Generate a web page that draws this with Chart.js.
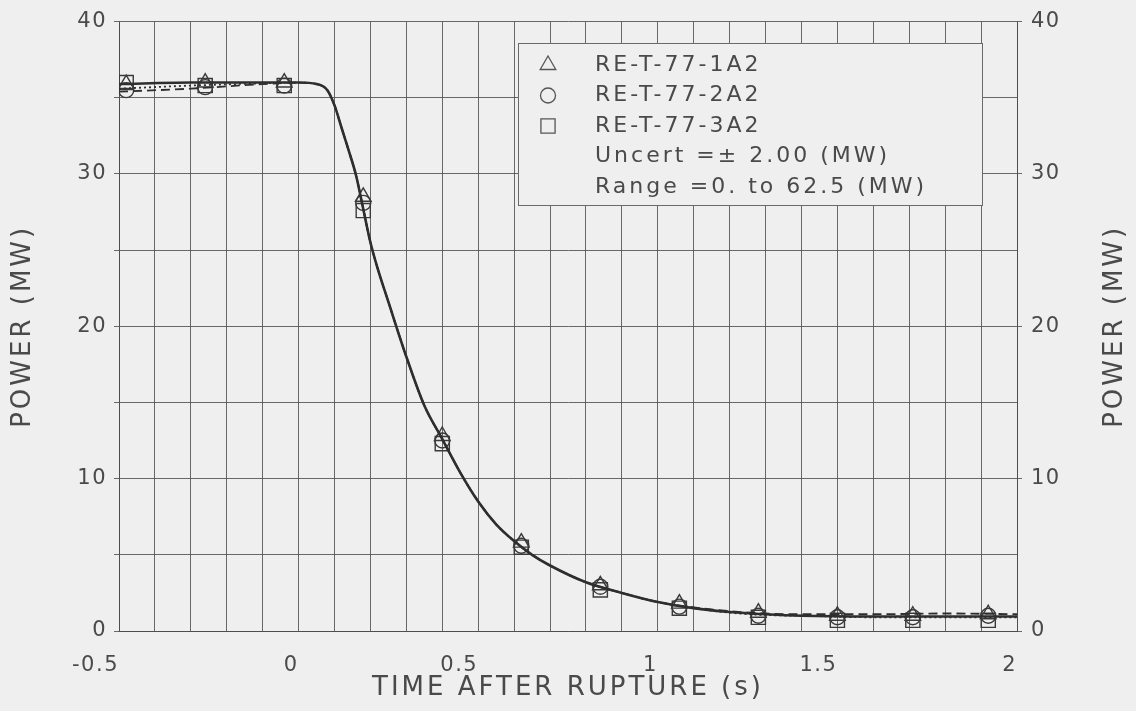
<!DOCTYPE html>
<html>
<head>
<meta charset="utf-8">
<title>Power after rupture</title>
<script src="https://cdn.jsdelivr.net/npm/chart.js@4.4.1/dist/chart.umd.min.js"></script>
<style>
  html, body { margin: 0; padding: 0; background: #efefef; }
  #wrap { width: 1136px; height: 711px; }
</style>
</head>
<body>
<div id="wrap"><canvas id="power-chart" width="1136" height="711"></canvas></div>
<script>
// smooth curves (time in s, power in MW)
const curveTime = [-0.5, -0.3, -0.1, 0, 0.05, 0.08, 0.1, 0.12, 0.14, 0.16, 0.18, 0.2, 0.22, 0.25,
  0.3, 0.35, 0.4, 0.45, 0.5, 0.55, 0.6, 0.65, 0.7, 0.8, 0.9, 1.0, 1.1, 1.2, 1.3, 1.4, 1.6, 1.8, 2.0];
const curve1A2 = [35.9, 36.0, 36.0, 36.0, 35.9, 35.5, 34.5, 33.0, 31.5, 29.9, 27.7, 25.5, 23.8, 21.6,
  18.0, 14.8, 12.6, 10.4, 8.5, 7.0, 5.9, 5.0, 4.3, 3.2, 2.5, 1.9, 1.5, 1.25, 1.1, 1.0, 0.95, 0.95, 0.95];
const curve2A2 = [35.4, 35.6, 35.9, 36.0, 35.9, 35.5, 34.5, 33.0, 31.5, 29.9, 27.7, 25.5, 23.8, 21.6,
  18.0, 14.8, 12.6, 10.4, 8.5, 7.0, 5.9, 5.0, 4.3, 3.2, 2.5, 1.9, 1.55, 1.3, 1.15, 1.1, 1.1, 1.15, 1.1];
const curve3A2 = [35.6, 35.8, 35.95, 36.0, 35.9, 35.5, 34.5, 33.0, 31.5, 29.9, 27.7, 25.5, 23.8, 21.6,
  18.0, 14.8, 12.6, 10.4, 8.5, 7.0, 5.9, 5.0, 4.3, 3.2, 2.5, 1.9, 1.5, 1.2, 1.05, 1.0, 0.9, 0.9, 0.9];

// sampled points shown with symbols
const sampleTime = [-0.48, -0.26, -0.04, 0.18, 0.40, 0.62, 0.84, 1.06, 1.28, 1.50, 1.71, 1.92];
const sample1A2 = [35.9, 36.0, 36.0, 28.5, 12.8, 5.8, 3.0, 1.8, 1.2, 1.0, 1.0, 1.1];
const sample2A2 = [35.5, 35.7, 35.8, 28.1, 12.5, 5.6, 2.9, 1.6, 1.0, 0.9, 0.9, 1.0];
const sample3A2 = [36.0, 35.8, 35.8, 27.6, 12.3, 5.5, 2.7, 1.5, 0.9, 0.7, 0.7, 0.7];

const seriesNames = ['RE-T-77-1A2', 'RE-T-77-2A2', 'RE-T-77-3A2'];
const noteLines = ['Uncert =\u00b1 2.00 (MW)', 'Range =0. to 62.5 (MW)'];
const xTitle = 'TIME AFTER RUPTURE (s)';
const yTitle = 'POWER (MW)';

const INK = '#4a4a4a';
const GRID = 'rgba(70,70,70,0.8)';
const FONT = '"DejaVu Sans", sans-serif';
const styles = [
  { pointStyle: 'triangle', radius: 9, dash: [] },
  { pointStyle: 'circle', radius: 7.5, dash: [9, 5] },
  { pointStyle: 'rect', radius: 10, dash: [2, 3] }
];

const pairs = (xs, ys) => xs.map((x, i) => ({ x, y: ys[i] }));
const curves = [curve1A2, curve2A2, curve3A2];
const samples = [sample1A2, sample2A2, sample3A2];

const datasets = [];
curves.forEach((c, i) => datasets.push({
  label: seriesNames[i] + ' curve',
  data: pairs(curveTime, c),
  borderColor: '#2e2e2e', borderWidth: i === 0 ? 2.6 : 1.8, borderDash: styles[i].dash,
  pointRadius: 0, cubicInterpolationMode: 'monotone', fill: false
}));
samples.forEach((s, i) => datasets.push({
  label: seriesNames[i],
  data: pairs(sampleTime, s),
  showLine: false,
  pointStyle: styles[i].pointStyle, pointRadius: styles[i].radius,
  pointBorderColor: '#3a3a3a', pointBackgroundColor: 'rgba(0,0,0,0)', pointBorderWidth: 1.4
}));

// tick labels get a little extra tracking, like the plotter lettering
function spacing(chart) { chart.ctx.letterSpacing = '1.5px'; }

const paperPlugin = {
  id: 'paper',
  beforeLayout: spacing,
  beforeDraw(chart) {
    const ctx = chart.ctx;
    spacing(chart);
    ctx.save();
    ctx.fillStyle = '#efefef';
    ctx.fillRect(0, 0, chart.width, chart.height);
    ctx.restore();
  },
  afterDraw(chart) {
    const ctx = chart.ctx;
    const area = chart.chartArea;
    ctx.save();
    ctx.letterSpacing = '3px';

    // legend box
    const bx = 518, by = 43, bw = 464, bh = 162;
    ctx.fillStyle = '#efefef';
    ctx.fillRect(bx, by, bw, bh);
    ctx.strokeStyle = '#6a6a6a';
    ctx.lineWidth = 1;
    ctx.strokeRect(bx + 0.5, by + 0.5, bw, bh);
    ctx.font = '22px ' + FONT;
    ctx.textBaseline = 'middle';
    ctx.textAlign = 'left';
    const rowH = 30.5;
    seriesNames.forEach((name, i) => {
      const y = by + 22 + i * rowH;
      ctx.strokeStyle = '#555';
      ctx.fillStyle = 'rgba(0,0,0,0)';
      ctx.lineWidth = 1.3;
      Chart.helpers.drawPoint(ctx, {
        pointStyle: styles[i].pointStyle, radius: styles[i].radius, rotation: 0, borderWidth: 1.3
      }, 548, y);
      ctx.fillStyle = INK;
      ctx.fillText(name, 595, y);
    });
    ctx.fillStyle = INK;
    noteLines.forEach((t, i) => ctx.fillText(t, 595, by + 22 + (i + 3) * rowH));

    // axis titles
    ctx.font = '26px ' + FONT;
    ctx.textAlign = 'center';
    ctx.fillText(xTitle, (area.left + area.right) / 2, 688);
    const midY = (area.top + area.bottom) / 2;
    [23, 1115].forEach(x => {
      ctx.save();
      ctx.translate(x, midY);
      ctx.rotate(-Math.PI / 2);
      ctx.fillText(yTitle, 0, 0);
      ctx.restore();
    });
    ctx.restore();
  }
};

const halfStep = v => Math.abs(v * 2 - Math.round(v * 2)) < 1e-6;
const tenStep = v => Math.abs(v / 10 - Math.round(v / 10)) < 1e-6;

new Chart(document.getElementById('power-chart'), {
  type: 'line',
  data: { datasets },
  options: {
    responsive: false, animation: false,
    layout: { padding: { top: 18 } },
    plugins: { legend: { display: false }, tooltip: { enabled: false } },
    scales: {
      x: {
        type: 'linear', min: -0.5, max: 2,
        grid: { color: GRID, lineWidth: 1, drawTicks: false },
        border: { color: GRID, width: 1 },
        ticks: {
          stepSize: 0.1, autoSkip: false, maxRotation: 0, align: 'end', padding: 22,
          color: INK, font: { family: FONT, size: 21 },
          callback: v => halfStep(v) ? String(Math.round(v * 2) / 2) : ''
        },
        afterFit: s => { s.height = 80; }
      },
      y: {
        min: 0, max: 40, position: 'left',
        grid: { color: GRID, lineWidth: 1, tickLength: 5 },
        border: { color: GRID, width: 1 },
        ticks: {
          stepSize: 5, color: INK, padding: 7, font: { family: FONT, size: 21 },
          callback: v => tenStep(v) ? String(v) : ''
        },
        afterFit: s => { s.width = 119; }
      },
      y2: {
        min: 0, max: 40, position: 'right',
        grid: { drawOnChartArea: false, color: GRID, tickLength: 5 },
        border: { color: GRID, width: 1 },
        ticks: { stepSize: 10, color: INK, padding: 9, font: { family: FONT, size: 21 } },
        afterFit: s => { s.width = 119; }
      }
    }
  },
  plugins: [paperPlugin]
});
</script>
</body>
</html>
